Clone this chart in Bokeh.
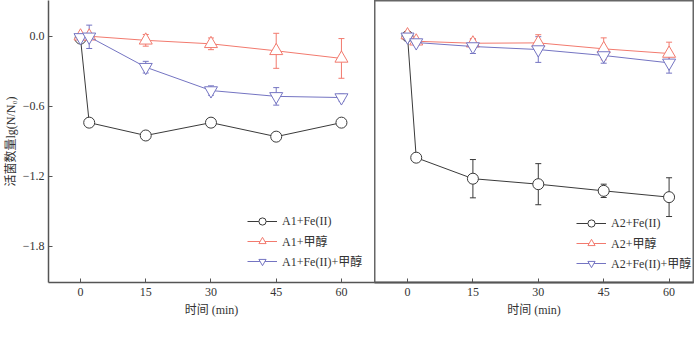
from bokeh.plotting import figure
from bokeh.models import (Range1d, FixedTicker, CustomJSTickFormatter, Whisker,
                          ColumnDataSource, Legend, LegendItem, TeeHead)
from bokeh.layouts import row
from bokeh.embed import file_html
from bokeh.resources import INLINE

# ---- data ----
times = [0, 2, 15, 30, 45, 60]
x_ticks = [0, 15, 30, 45, 60]
y_ticks = [0.0, -0.6, -1.2, -1.8]

a1_fe = [-0.02, -0.74, -0.85, -0.74, -0.86, -0.74]
a1_fe_err = [0.02, 0.03, 0.03, 0.03, 0.03, 0.01]
a1_me = [0.0, 0.0, -0.035, -0.065, -0.125, -0.19]
a1_me_err = [0.02, 0.02, 0.05, 0.05, 0.15, 0.17]
a1_fm = [-0.01, -0.005, -0.265, -0.465, -0.515, -0.525]
a1_fm_err = [0.02, 0.10, 0.05, 0.04, 0.075, 0.03]

a2_fe = [0.0, -1.04, -1.22, -1.267, -1.324, -1.378]
a2_fe_err = [0.01, 0.02, 0.164, 0.176, 0.057, 0.166]
a2_me = [0.01, -0.043, -0.06, -0.057, -0.108, -0.148]
a2_me_err = [0.02, 0.02, 0.04, 0.07, 0.094, 0.097]
a2_fm = [-0.005, -0.054, -0.088, -0.114, -0.165, -0.228]
a2_fm_err = [0.02, 0.02, 0.06, 0.11, 0.066, 0.088]

labels1 = ["A1+Fe(II)", "A1+甲醇", "A1+Fe(II)+甲醇"]
labels2 = ["A2+Fe(II)", "A2+甲醇", "A2+Fe(II)+甲醇"]

BLACK = "#3a3a3a"
RED = "#f27a6e"
BLUE = "#7474c2"
AXIS = "#555555"
SERIF = "Liberation Serif, Noto Sans CJK SC"

Y_RANGE = (-2.109, 0.306)


def style_axes(p):
    for ax in (p.xaxis, p.yaxis):
        ax.axis_line_color = AXIS
        ax.axis_line_width = 1.5
        ax.major_tick_line_color = AXIS
        ax.major_tick_in = 4
        ax.major_tick_out = 0
        ax.minor_tick_line_color = None
        ax.major_label_text_font = SERIF
        ax.major_label_text_font_size = "12px"
        ax.major_label_text_color = "#333333"
        ax.axis_label_text_font = SERIF
        ax.axis_label_text_font_size = "12px"
        ax.axis_label_text_font_style = "normal"
        ax.axis_label_text_color = "#333333"
    p.xaxis.ticker = FixedTicker(ticks=x_ticks)
    p.yaxis.ticker = FixedTicker(ticks=y_ticks)
    p.yaxis.formatter = CustomJSTickFormatter(
        code="return tick.toFixed(1).replace('-', '\u2212');")
    p.xaxis.major_label_standoff = 5
    p.xaxis.axis_label_standoff = 4
    p.yaxis.major_label_standoff = 4
    p.yaxis.axis_label_standoff = 2
    p.xaxis.axis_label = "时间 (min)"
    p.grid.visible = False


def add_series(p, y, err, color, marker, size):
    src = ColumnDataSource(dict(x=times, y=y,
                                lo=[a - b for a, b in zip(y, err)],
                                hi=[a + b for a, b in zip(y, err)]))
    ln = p.line("x", "y", source=src, line_color=color, line_width=1)
    sc = p.scatter("x", "y", source=src, marker=marker, size=size,
                   line_color=color, fill_color="white", line_width=1)
    w = Whisker(base="x", upper="hi", lower="lo", source=src,
                dimension="height", line_color=color, line_width=1,
                upper_head=TeeHead(size=6, line_color=color, line_width=1),
                lower_head=TeeHead(size=6, line_color=color, line_width=1))
    p.add_layout(w)
    return [ln, sc]


def make_legend(p, rends, labels, loc):
    items = [LegendItem(label=l, renderers=r) for l, r in zip(labels, rends)]
    lg = Legend(items=items, location=loc, border_line_color=None,
                background_fill_alpha=0, padding=0, margin=0, spacing=2,
                glyph_width=30, glyph_height=18, label_height=18,
                label_standoff=5, label_text_font=SERIF,
                label_text_font_size="12px", label_text_color="#333333")
    p.add_layout(lg, "center")


# ---- left panel ----
p1 = figure(frame_width=326, frame_height=282, output_backend="svg",
            toolbar_location=None, x_range=Range1d(-7.36, 67.6),
            y_range=Range1d(*Y_RANGE), min_border_left=0, min_border_right=0,
            min_border_top=0, min_border_bottom=0)
p1.outline_line_color = None
style_axes(p1)
p1.yaxis.axis_label = "活菌数量lg(N/N₀)"
r1 = [add_series(p1, a1_fe, a1_fe_err, BLACK, "circle", 11),
      add_series(p1, a1_me, a1_me_err, RED, "triangle", 13),
      add_series(p1, a1_fm, a1_fm_err, BLUE, "inverted_triangle", 13)]
make_legend(p1, r1, labels1, (199, 12))

# ---- right panel ----
p2 = figure(frame_width=319, frame_height=282, output_backend="svg",
            toolbar_location=None, x_range=Range1d(-7.57, 65.6),
            y_range=Range1d(*Y_RANGE), min_border_left=0, min_border_right=1,
            min_border_top=0, min_border_bottom=0)
p2.outline_line_color = "#666666"
p2.outline_line_width = 2
style_axes(p2)
p2.yaxis.visible = False
r2 = [add_series(p2, a2_fe, a2_fe_err, BLACK, "circle", 11),
      add_series(p2, a2_me, a2_me_err, RED, "triangle", 13),
      add_series(p2, a2_fm, a2_fm_err, BLUE, "inverted_triangle", 13)]
make_legend(p2, r2, labels2, (202, 10))

layout = row(p1, p2, spacing=0)
open("out.html", "w").write(file_html(layout, INLINE))
